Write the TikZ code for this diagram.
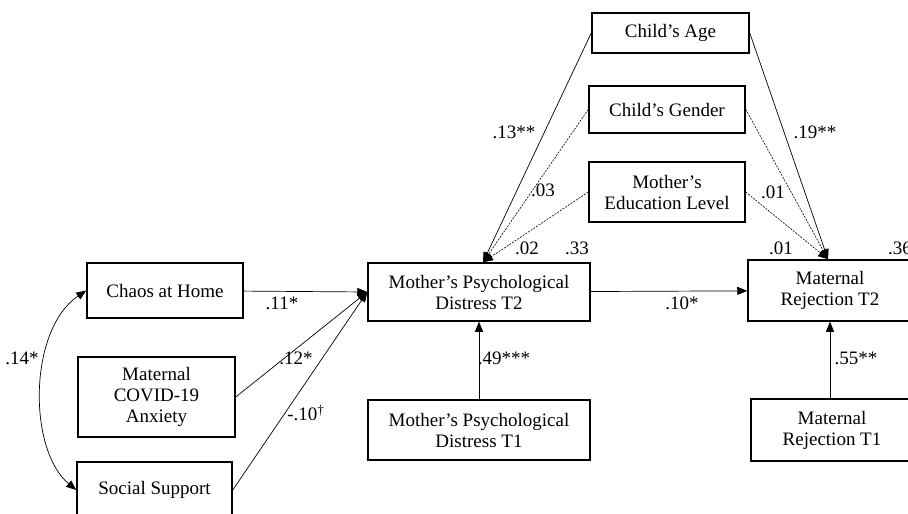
\documentclass[tikz,border=0pt]{standalone}
\usepackage{fontspec}
\setmainfont{Liberation Serif}
\usetikzlibrary{arrows.meta}

\begin{document}
\begin{tikzpicture}[
  x=1pt, y=-1pt,
  font=\fontsize{19}{21}\selectfont,
  var/.style={draw, line width=1.5pt, align=center, inner sep=0pt},
  coef/.style={inner sep=0pt, anchor=center},
  arr/.style={-{Triangle[length=10pt,width=8pt]}, line width=0.7pt},
  darr/.style={arr, dash pattern=on 2pt off 1.2pt, line width=0.6pt},
  biarr/.style={{Triangle[length=10pt,width=8pt]}-{Triangle[length=10pt,width=8pt]}, line width=0.7pt}
]
\clip (0,0) rectangle (908,514);
\fill[white] (0,0) rectangle (908,514);

% predictors
\node[var, minimum width=156pt, minimum height=55pt] (chaos) at (165,290.5) {Chaos at Home};
\node[var, minimum width=157pt, minimum height=80pt] (covid) at (156.5,397) {Maternal\\COVID-19\\Anxiety};
\node[var, minimum width=155pt, minimum height=56pt] (support) at (154.5,490) {Social Support};

% mediator and outcome
\node[var, minimum width=222pt, minimum height=58pt] (mpd2) at (479,292) {Mother's Psychological\\Distress T2};
\node[var, minimum width=222pt, minimum height=60pt] (mpd1) at (479,430) {Mother's Psychological\\Distress T1};
\node[var, minimum width=164pt, minimum height=61pt] (mr2) at (830,290.5) {Maternal\\Rejection T2};
\node[var, minimum width=162pt, minimum height=62pt] (mr1) at (832,430) {Maternal\\Rejection T1};

% covariates
\node[var, minimum width=157pt, minimum height=40pt] (age) at (670.5,33) {Child's Age};
\node[var, minimum width=156pt, minimum height=47pt] (gender) at (667,109.5) {Child's Gender};
\node[var, minimum width=156pt, minimum height=60pt] (edu) at (667,192) {Mother's\\Education Level};

\draw[arr] (chaos) -- (mpd2.west);
\draw[arr] (covid.east) -- (mpd2.west);
\draw[arr] (support.east) -- (mpd2.west);
\draw[biarr] (chaos.west) .. controls (28,330) and (28,450) .. (support.west);
\draw[arr] (mpd2) -- (mr2);
\draw[arr] (mpd1) -- (mpd2);
\draw[arr] (mr1.north -| mr2.north) -- (mr2.south);

\draw[arr] (age.west) -- ([xshift=4pt]mpd2.north);
\draw[darr] (gender.west) -- ([xshift=4pt]mpd2.north);
\draw[darr] (edu.west) -- ([xshift=4pt]mpd2.north);
\draw[arr] (age.east) -- ([xshift=-2pt]mr2.north);
\draw[darr] (gender.east) -- ([xshift=-2pt]mr2.north);
\draw[darr] (edu.east) -- ([xshift=-2pt]mr2.north);

% coefficients
\node[coef] (c11) at (282,303) {.11*};
\node[coef] (c12) at (296,358) {.12*};
\node[coef] (c10) at (306,413) {-.10\textsuperscript{\dag}};
\node[coef] (c14) at (22,358) {.14*};
\node[coef] (c10b) at (682,303) {.10*};
\node[coef] (c49) at (504,358) {.49***};
\node[coef] (c55) at (856,358) {.55**};
\node[coef] (c13) at (514,132) {.13**};
\node[coef] (c03) at (543,190) {.03};
\node[coef] (c19) at (815,132) {.19**};
\node[coef] (c01) at (773,192) {.01};
\node[coef] (r02) at (527,248) {.02};
\node[coef] (r33) at (577,248) {.33};
\node[coef] (r01) at (781,248) {.01};
\node[coef, anchor=west] (r36) at (888,248) {.36};
\end{tikzpicture}
\end{document}
